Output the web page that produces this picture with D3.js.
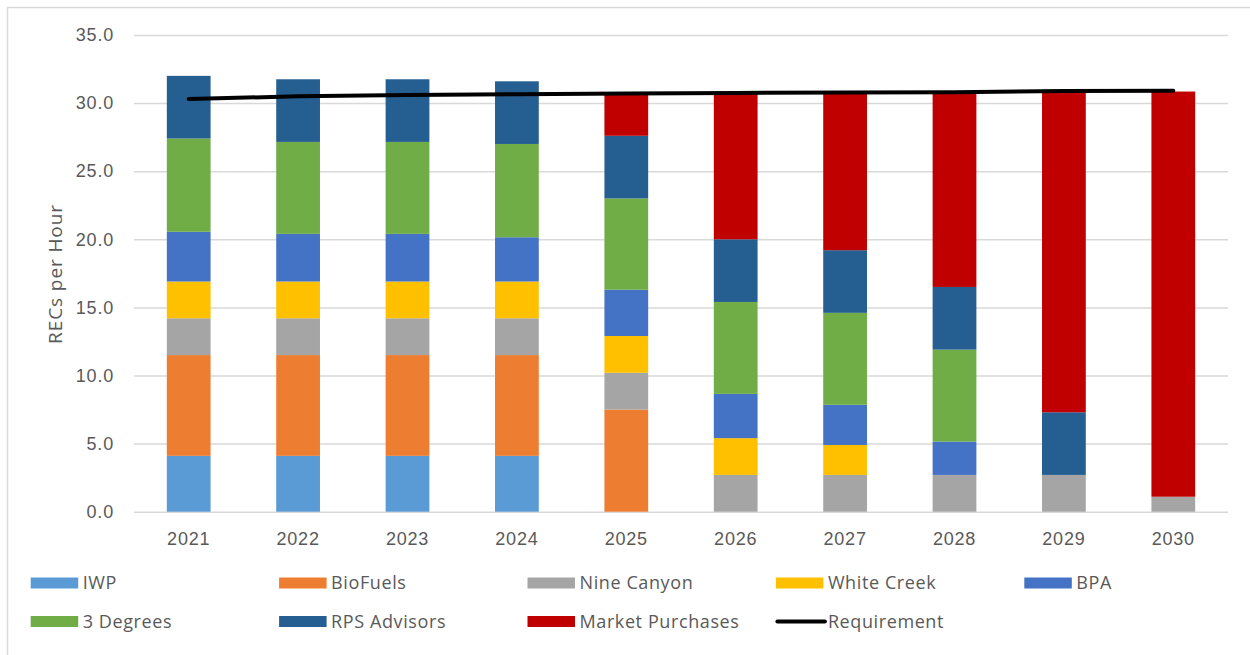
<!DOCTYPE html>
<html>
<head>
<meta charset="utf-8">
<script src="https://cdn.jsdelivr.net/npm/d3@7"></script>
<style>
  body { margin: 0; background: #fff; }
  svg { display: block; font-family: "Open Sans", sans-serif; }
</style>
</head>
<body>
<svg id="chart"></svg>
<script>
var width = 1250;
var height = 655;

// values (RECs per hour)
var years = ["2021", "2022", "2023", "2024", "2025", "2026", "2027", "2028", "2029", "2030"];
var iwp = [4.1, 4.1, 4.1, 4.1, 0, 0, 0, 0, 0, 0];
var bioFuels = [7.4, 7.4, 7.4, 7.4, 7.5, 0, 0, 0, 0, 0];
var nineCanyon = [2.7, 2.7, 2.7, 2.7, 2.7, 2.7, 2.7, 2.7, 2.7, 1.1];
var whiteCreek = [2.7, 2.7, 2.7, 2.7, 2.7, 2.7, 2.2, 0, 0, 0];
var bpa = [3.65, 3.5, 3.5, 3.25, 3.4, 3.25, 2.95, 2.45, 0, 0];
var threeDegrees = [6.85, 6.75, 6.75, 6.85, 6.7, 6.75, 6.75, 6.75, 0, 0];
var rpsAdvisors = [4.6, 4.6, 4.6, 4.6, 4.6, 4.6, 4.6, 4.6, 4.6, 0];
var marketPurchases = [0, 0, 0, 0, 3.0, 10.7, 11.5, 14.3, 23.5, 29.75];
var requirement = [30.3, 30.5, 30.6, 30.65, 30.7, 30.75, 30.77, 30.8, 30.88, 30.9];
var yTicks = [0, 5, 10, 15, 20, 25, 30, 35];

var seriesNames = ["IWP", "BioFuels", "Nine Canyon", "White Creek", "BPA",
                   "3 Degrees", "RPS Advisors", "Market Purchases"];
var seriesValues = [iwp, bioFuels, nineCanyon, whiteCreek, bpa,
                    threeDegrees, rpsAdvisors, marketPurchases];
var seriesColors = ["#5B9BD5", "#ED7D31", "#A5A5A5", "#FFC000", "#4472C4",
                    "#70AD47", "#255E91", "#C00000"];

// build a row per year for d3.stack
var table = years.map(function (y, i) {
  var row = { year: y };
  seriesNames.forEach(function (n, k) { row[n] = seriesValues[k][i]; });
  return row;
});

var plot = { left: 134, right: 1228, top: 35, bottom: 511.7 };
var textColor = "#595959";
var gridColor = "#D9D9D9";

var svg = d3.select("#chart")
    .attr("width", width)
    .attr("height", height);

svg.append("rect")
    .attr("width", width).attr("height", height)
    .attr("fill", "#fff");

// chart area border (right and bottom edges fall outside the picture)
svg.append("rect")
    .attr("x", 7.5).attr("y", 7.5)
    .attr("width", width + 20).attr("height", height + 20)
    .attr("fill", "none")
    .attr("stroke", gridColor)
    .attr("stroke-width", 1.5);

var xScale = d3.scaleBand()
    .domain(years)
    .range([plot.left, plot.right])
    .paddingInner(0.6)
    .paddingOuter(0.3);

var yScale = d3.scaleLinear()
    .domain([0, 35])
    .range([plot.bottom, plot.top]);

// y axis with gridlines
var yAxis = d3.axisLeft(yScale)
    .tickValues(yTicks)
    .tickFormat(d3.format(".1f"))
    .tickSize(-(plot.right - plot.left))
    .tickPadding(20);

var gy = svg.append("g")
    .attr("transform", `translate(${plot.left},0)`)
    .call(yAxis);
gy.select(".domain").remove();
gy.selectAll(".tick line").attr("stroke", gridColor).attr("stroke-width", 1.5);
gy.selectAll(".tick text")
    .attr("fill", textColor)
    .style("font-size", "18px")
    .style("letter-spacing", "0.8px");

// stacked bars
var stacked = d3.stack().keys(seriesNames)(table);

svg.append("g")
    .selectAll("g")
    .data(stacked)
    .enter()
    .append("g")
        .attr("fill", (d, i) => seriesColors[i])
    .selectAll("rect")
    .data(d => d)
    .enter()
    .append("rect")
        .attr("x", d => xScale(d.data.year))
        .attr("width", xScale.bandwidth())
        .attr("y", d => yScale(d[1]))
        .attr("height", d => yScale(d[0]) - yScale(d[1]));

// x axis labels
var xAxis = d3.axisBottom(xScale)
    .tickSize(0)
    .tickPadding(21);

var gx = svg.append("g")
    .attr("transform", `translate(0,${plot.bottom})`)
    .call(xAxis);
gx.select(".domain").remove();
gx.selectAll(".tick text")
    .attr("fill", textColor)
    .style("font-size", "18px")
    .style("letter-spacing", "0.8px");

// requirement line
var line = d3.line()
    .x((d, i) => xScale(years[i]) + xScale.bandwidth() / 2)
    .y(d => yScale(d));

svg.append("path")
    .datum(requirement)
    .attr("d", line)
    .attr("fill", "none")
    .attr("stroke", "#000")
    .attr("stroke-width", 4)
    .attr("stroke-linecap", "round");

// y axis title
svg.append("text")
    .attr("transform", "rotate(-90)")
    .attr("x", -274)
    .attr("y", 55)
    .attr("dy", "0.35em")
    .style("text-anchor", "middle")
    .style("font-size", "19px")
    .style("letter-spacing", "0.9px")
    .attr("fill", textColor)
    .text("RECs per Hour");

// legend
var legendItems = seriesNames.map((n, i) => ({ name: n, color: seriesColors[i], type: "box" }));
legendItems.push({ name: "Requirement", color: "#000", type: "line" });

var legend = svg.append("g")
    .selectAll("g")
    .data(legendItems)
    .enter()
    .append("g")
        .attr("transform", (d, i) => `translate(${30.7 + (i % 5) * 248.4},${i < 5 ? 583 : 621.5})`);

legend.filter(d => d.type === "box")
    .append("rect")
        .attr("x", 0).attr("y", -5.5)
        .attr("width", 47.5).attr("height", 11)
        .attr("fill", d => d.color);

legend.filter(d => d.type === "line")
    .append("line")
        .attr("x1", 1.5).attr("x2", 49)
        .attr("stroke", "#000")
        .attr("stroke-width", 4)
        .attr("stroke-linecap", "round");

legend.append("text")
    .attr("x", 52)
    .attr("dy", "0.35em")
    .style("font-size", "18px")
    .style("letter-spacing", "0.6px")
    .attr("fill", textColor)
    .text(d => d.name);
</script>
</body>
</html>
